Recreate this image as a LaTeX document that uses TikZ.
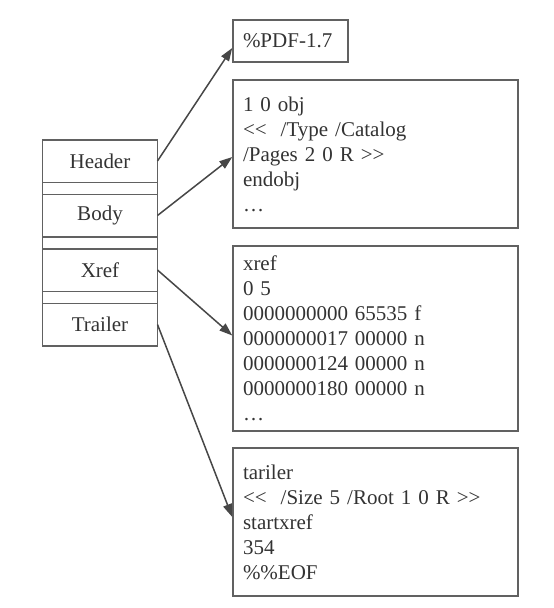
\documentclass[tikz,border=0pt]{standalone}
\usepackage{fontspec}
\setmainfont{Liberation Serif}
\usetikzlibrary{arrows.meta}

\newcommand\ltlt{<\kern0pt<}
\newcommand\gtgt{>\kern0pt>}

\begin{document}
\begin{tikzpicture}[x=1pt, y=-1pt, line width=1.5pt,
    font=\fontsize{21}{25}\selectfont,
    part/.style={draw=black!62, minimum width=115, minimum height=42.5,
                 inner sep=0pt, outer sep=0pt, text=black!80},
    blob/.style={draw=black!62, text width=265pt, inner xsep=10pt,
                 inner ysep=0pt, align=left, text=black!80},
    link/.style={draw=black!72, -{Triangle[length=13pt, width=9pt]}}]
      \useasboundingbox (0, 0) rectangle (554, 608);
      % file layout on the left
      \node[part] (hdr)  at (100, 161)   {Header};
      \node[part] (body) at (100, 215.5) {Body};
      \node[part] (xref) at (100, 270)   {Xref};
      \node[part] (trl)  at (100, 324.5) {Trailer};
      \draw[black!62] (hdr.south west) rectangle (body.north east)
                      (body.south west) rectangle (xref.north east)
                      (xref.south west) rectangle (trl.north east);
      % contents on the right
      \node[blob, text width=95pt, minimum height=42] (hdrx) at (290.5, 41)
            {\%PDF-1.7};
      \node[blob, minimum height=148] (bodyx) at (375.5, 154)
            {1 0 obj\\ \ltlt~ /Type /Catalog\\ /Pages 2 0 R \gtgt\\ endobj\\ \ldots};
      \node[blob, minimum height=185] (xrefx) at (375.5, 338.5)
            {xref\\ 0 5\\ 0000000000 65535 f\\ 0000000017 00000 n\\
             0000000124 00000 n\\ 0000000180 00000 n\\ \ldots};
      \node[blob, minimum height=148] (trlx) at (375.5, 522)
            {tariler\\ \ltlt~ /Size 5 /Root 1 0 R \gtgt\\ startxref\\ 354\\ \%\%EOF};
      \draw[link] (hdr.east)  -- ([yshift=-7pt]hdrx.west);
      \draw[link] (body.east) -- ([yshift=-3pt]bodyx.west);
      \draw[link] (xref.east) -- ([yshift=3pt]xrefx.west);
      \draw[link] (trl.east)  -- ([yshift=5pt]trlx.west);
    \end{tikzpicture}
\end{document}
